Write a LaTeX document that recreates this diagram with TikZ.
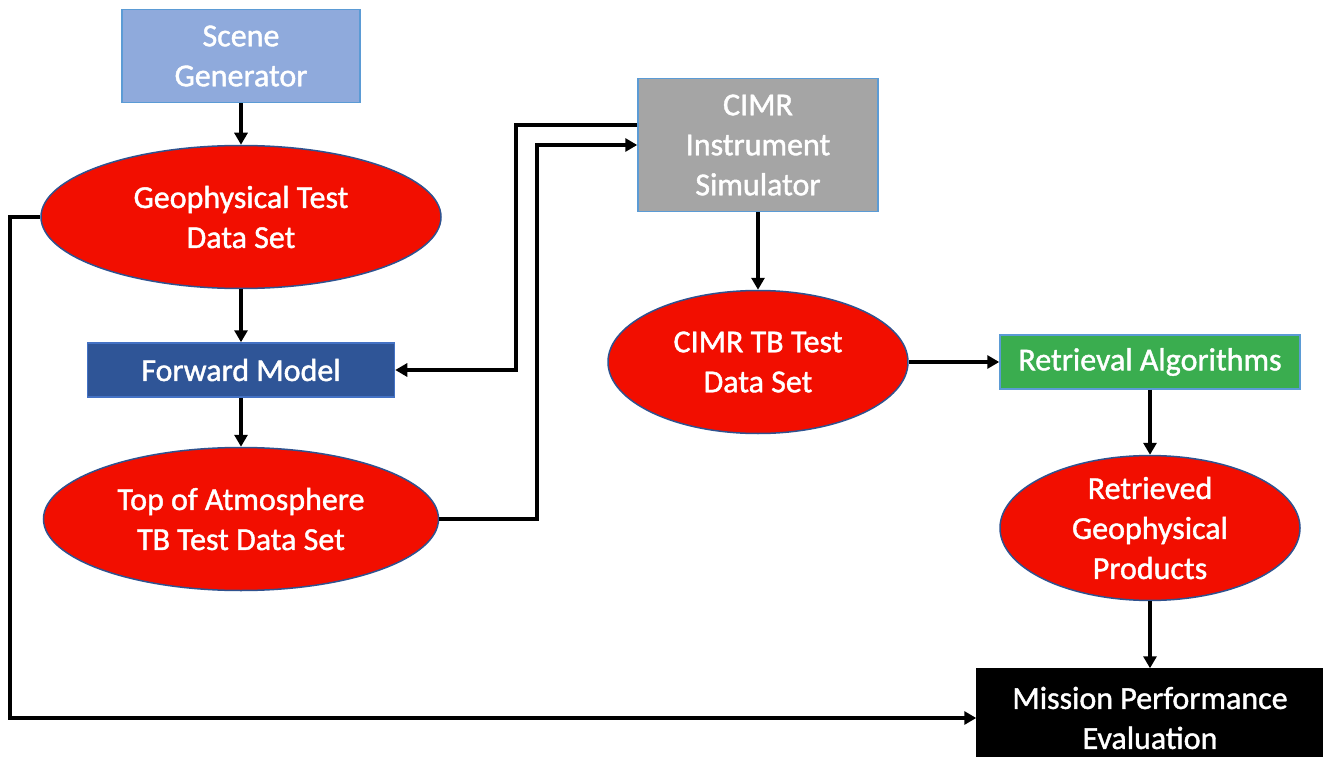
\documentclass[tikz,border=0pt]{standalone}
\usepackage{fontspec}
\setmainfont{Carlito}[FakeBold=1.3]
\usetikzlibrary{shapes.geometric,arrows.meta}
\definecolor{ellred}{RGB}{242,14,0}
\definecolor{ellborder}{RGB}{47,82,143}
\definecolor{scenefill}{RGB}{143,170,220}
\definecolor{boxborder}{RGB}{91,155,213}
\definecolor{fwdfill}{RGB}{47,85,151}
\definecolor{fwdborder}{RGB}{68,114,196}
\definecolor{greyfill}{RGB}{165,165,165}
\definecolor{greenfill}{RGB}{58,173,79}
\begin{document}
\begin{tikzpicture}[x=1pt,y=-1pt,
  font=\fontsize{32}{40}\selectfont,
  box/.style={rectangle,inner sep=0pt,align=center,text=white,line width=1.5pt},
  ell/.style={ellipse,inner sep=0pt,align=center,text=white,fill=ellred,draw=ellborder,line width=1.5pt},
  arr/.style={line width=3.5pt,-{Triangle[length=12pt,width=13pt]}}]
\useasboundingbox (0,0) rectangle (1323,757);
\clip (0,0) rectangle (1323,757);
\fill[white] (0,0) rectangle (1323,757);
\node[box,fill=scenefill,draw=boxborder,minimum width=238pt,minimum height=93pt] (scene) at (241,56) {Scene\\Generator};
\node[ell,minimum width=400pt,minimum height=143pt] (geo) at (241,217) {Geophysical Test\\Data Set};
\node[box,fill=fwdfill,draw=fwdborder,minimum width=307pt,minimum height=54pt] (fwd) at (241,370) {Forward Model};
\node[ell,minimum width=395pt,minimum height=143pt] (toa) at (241,519) {Top of Atmosphere\\TB Test Data Set};
\node[box,fill=greyfill,draw=boxborder,minimum width=240pt,minimum height=133pt] (cimr) at (758,145) {CIMR\\Instrument\\Simulator};
\node[ell,minimum width=300pt,minimum height=143pt] (tb) at (758,362) {CIMR TB Test\\Data Set};
\node[box,fill=greenfill,draw=boxborder,minimum width=300pt,minimum height=54pt] (ret) at (1150,362) {Retrieval Algorithms};
\node[ell,minimum width=300pt,minimum height=125pt] (prod) at (1150,528) {Retrieved\\Geophysical\\Products};
\node[box,fill=black,draw=black,minimum width=346pt,minimum height=98pt] (mission) at (1150,718) {Mission Performance\\Evaluation};
\draw[arr] (scene.south) -- (geo.north);
\draw[arr] (geo.south) -- (fwd.north);
\draw[arr] (fwd.south) -- (toa.north);
\draw[arr] (toa.east) -| (537,300) |- (cimr.west);
\draw[arr] ([yshift=20pt]cimr.west) -| (516,250) |- (fwd.east);
\draw[arr] (cimr.south) -- (tb.north);
\draw[arr] (tb.east) -- (ret.west);
\draw[arr] (ret.south) -- (prod.north);
\draw[arr] (prod.south) -- (mission.north);
\draw[arr] (geo.west) -| (10,400) |- (mission.west);
\end{tikzpicture}
\end{document}
